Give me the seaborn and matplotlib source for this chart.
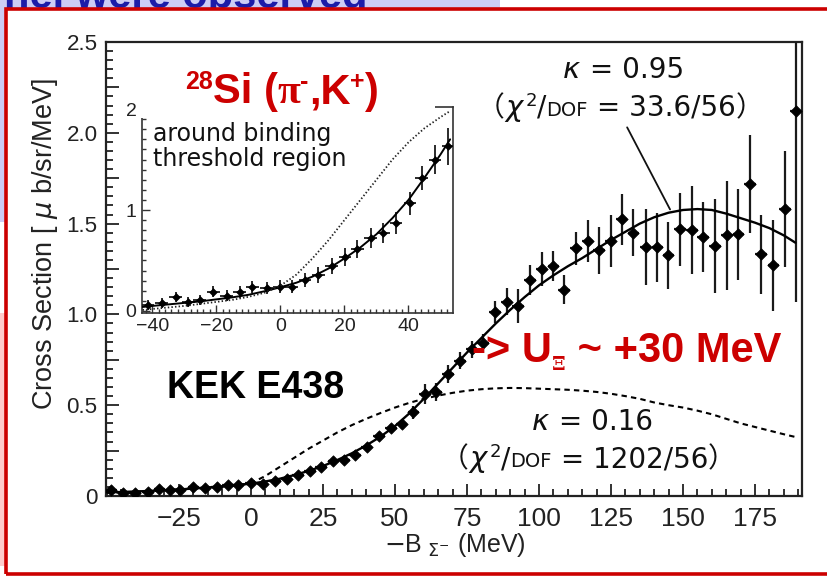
import numpy as np
import pandas as pd
import seaborn as sns
import matplotlib
matplotlib.use("Agg")
import matplotlib.pyplot as plt
from matplotlib import font_manager as fm
from matplotlib.patches import Rectangle
from matplotlib.ticker import MultipleLocator, FixedLocator, FixedFormatter

# ---------------- data ----------------
main_x = [-48.4, -44.3, -40.2, -35.7, -31.8, -28.1, -24.7, -20.0, -16.0, -11.9, -7.9, -4.4, -0.1,
          4.1, 8.3, 12.4, 16.4, 20.5, 24.3, 28.6, 32.4, 36.2, 40.2, 44.5, 48.6, 52.3, 56.4, 60.4,
          64.2, 68.5, 72.6, 76.6, 80.6, 84.7, 88.8, 92.8, 96.9, 100.9, 105.0, 108.7, 112.8, 116.9,
          120.9, 124.9, 128.7, 132.8, 137.0, 141.1, 144.9, 149.0, 153.1, 157.0, 161.1, 165.2,
          169.2, 173.3, 177.1, 181.4, 185.4, 189.2]
main_y = [0.035, 0.015, 0.018, 0.024, 0.041, 0.033, 0.033, 0.048, 0.046, 0.052, 0.059, 0.063, 0.070,
          0.067, 0.085, 0.096, 0.117, 0.135, 0.159, 0.190, 0.200, 0.226, 0.270, 0.333, 0.376, 0.395,
          0.460, 0.561, 0.574, 0.672, 0.746, 0.807, 0.840, 1.015, 1.070, 1.048, 1.190, 1.252, 1.265,
          1.135, 1.363, 1.404, 1.352, 1.404, 1.524, 1.450, 1.370, 1.370, 1.326, 1.468, 1.465, 1.426,
          1.376, 1.435, 1.440, 1.720, 1.330, 1.270, 1.580, 2.120]
main_err = [0.012, 0.012, 0.012, 0.012, 0.012, 0.012, 0.012, 0.012, 0.012, 0.012, 0.012, 0.012, 0.012,
            0.012, 0.012, 0.012, 0.014, 0.014, 0.015, 0.016, 0.017, 0.018, 0.02, 0.02, 0.022, 0.025,
            0.037, 0.055, 0.05, 0.05, 0.048, 0.046, 0.05, 0.06, 0.074, 0.093, 0.083, 0.093, 0.083,
            0.08, 0.093, 0.115, 0.13, 0.144, 0.14, 0.13, 0.21, 0.19, 0.185, 0.2, 0.24, 0.195, 0.26,
            0.3, 0.25, 0.27, 0.22, 0.25, 0.32, 1.05]

fit_x = [-50, -45, -40, -35, -30, -25, -20, -15, -10, -5, 0, 5, 10, 15, 20, 25, 30, 35, 40, 45, 50,
         55, 60, 65, 70, 75, 80, 85, 90, 95, 100, 105, 110, 115, 120, 125, 130, 135, 140, 145, 150,
         155, 160, 165, 170, 175, 180, 185, 189]
fit_k095 = [0.02, 0.022, 0.025, 0.028, 0.032, 0.036, 0.041, 0.047, 0.053, 0.06, 0.068, 0.08, 0.095,
            0.115, 0.138, 0.165, 0.198, 0.235, 0.278, 0.327, 0.385, 0.455, 0.535, 0.62, 0.705, 0.79,
            0.87, 0.95, 1.025, 1.095, 1.16, 1.215, 1.265, 1.31, 1.36, 1.41, 1.455, 1.5, 1.535, 1.56,
            1.575, 1.58, 1.575, 1.555, 1.53, 1.505, 1.475, 1.435, 1.395]
fit_k016 = [0.018, 0.02, 0.023, 0.027, 0.031, 0.036, 0.041, 0.047, 0.053, 0.06, 0.07, 0.11, 0.16,
            0.21, 0.26, 0.305, 0.35, 0.39, 0.425, 0.457, 0.487, 0.513, 0.535, 0.553, 0.568, 0.58,
            0.588, 0.593, 0.595, 0.594, 0.591, 0.588, 0.585, 0.58, 0.573, 0.563, 0.55, 0.535, 0.515,
            0.50, 0.487, 0.47, 0.45, 0.425, 0.40, 0.38, 0.36, 0.34, 0.325]

inset_x = [-41.3, -37.1, -32.7, -28.8, -25.2, -21.0, -16.8, -12.7, -8.7, -4.3, -0.2, 3.5, 7.7, 11.8,
           16.0, 20.2, 24.0, 28.2, 32.1, 36.1, 40.5, 44.1, 48.3, 52.4]
inset_y = [0.059, 0.076, 0.136, 0.092, 0.109, 0.191, 0.149, 0.191, 0.235, 0.225, 0.241, 0.241, 0.307,
           0.356, 0.446, 0.532, 0.611, 0.72, 0.775, 0.868, 1.066, 1.32, 1.50, 1.63]
inset_err = [0.05, 0.05, 0.05, 0.05, 0.05, 0.055, 0.055, 0.06, 0.06, 0.06, 0.065, 0.065, 0.07, 0.075,
             0.08, 0.09, 0.09, 0.1, 0.1, 0.11, 0.115, 0.12, 0.14, 0.18]
inset_fit_x = [-43, -40, -35, -30, -25, -20, -15, -10, -5, 0, 5, 10, 15, 20, 25, 30, 35, 40, 45, 50, 53]
inset_solid = [0.04, 0.05, 0.065, 0.08, 0.095, 0.115, 0.135, 0.16, 0.195, 0.235, 0.28, 0.34, 0.42,
               0.52, 0.63, 0.76, 0.92, 1.1, 1.32, 1.55, 1.7]
inset_dotted = [0.01, 0.02, 0.035, 0.05, 0.07, 0.09, 0.11, 0.14, 0.18, 0.25, 0.36, 0.52, 0.7, 0.9,
                1.1, 1.3, 1.5, 1.67, 1.81, 1.92, 1.98]

main_xticks = [-25, 0, 25, 50, 75, 100, 125, 150, 175]
main_xticklabels = ["\u221225", "0", "25", "50", "75", "100", "125", "150", "175"]
main_yticks = [0, 0.25, 0.5, 0.75, 1.0, 1.25, 1.5, 1.75, 2.0, 2.25, 2.5]
main_yticklabels = ["0", "", "0.5", "", "1.0", "", "1.5", "", "2.0", "", "2.5"]
inset_xticks = [-40, -20, 0, 20, 40]
inset_xticklabels = ["\u221240", "\u221220", "0", "20", "40"]
inset_yticks = [0, 1, 2]
inset_yticklabels = ["0", "1", "2"]

leader_from = (130.6, 2.03)
leader_to = (145.5, 1.578)

# ---------------- style ----------------
sns.set_theme(style="white")
names = {f.name for f in fm.fontManager.ttflist}
NARROW = "Liberation Sans Narrow" if "Liberation Sans Narrow" in names else "Liberation Sans"
narrow_scale = 1.0 if NARROW == "Liberation Sans Narrow" else 0.85
plt.rcParams["font.family"] = ["Liberation Sans", "DejaVu Sans"]
plt.rcParams["mathtext.fontset"] = "dejavusans"

W, H = 827, 578
fig = plt.figure(figsize=(W / 100, H / 100), dpi=100)
fig.patch.set_facecolor("white")


def fx(px):
    return px / W


def fy(py):
    return 1 - py / H


# ---------------- slide background ----------------
fig.patches.append(Rectangle((0, fy(10)), fx(500), 10 / H, transform=fig.transFigure,
                             facecolor="#ccccf5", edgecolor="none", zorder=0.5))
fig.patches.append(Rectangle((0, fy(222)), fx(6), 222 / H, transform=fig.transFigure,
                             facecolor="#ccccf5", edgecolor="none", zorder=0.5))
fig.patches.append(Rectangle((0, fy(566)), fx(6), (566 - 313) / H, transform=fig.transFigure,
                             facecolor="#ffcccc", edgecolor="none", zorder=0.5))
fig.text(fx(4), fy(8), "nel were observed", fontsize=30, fontweight="bold", color="#1c1ca8",
         va="baseline", ha="left", zorder=0.6)

# ---------------- main axes ----------------
ax = fig.add_axes([fx(106), fy(496), (802 - 106) / W, (496 - 42) / H])
ax.set_facecolor("white")

ax.errorbar(main_x, main_y, yerr=main_err, xerr=2.0, fmt="none", ecolor="#1a1a1a",
            elinewidth=1.6, capsize=0, zorder=3)
sns.scatterplot(x=main_x, y=main_y, marker="D", s=34, color="black", edgecolor="black",
                linewidth=0.5, ax=ax, zorder=4, legend=False)
sns.lineplot(x=fit_x, y=fit_k095, ax=ax, color="black", lw=1.7, zorder=5, sort=False)
sns.lineplot(x=fit_x, y=fit_k016, ax=ax, color="black", lw=1.5, zorder=5, sort=False,
             linestyle=(0, (2.6, 2.0)))

ax.set_xlim(-50.3, 191.3)
ax.set_ylim(0, 2.5)
ax.xaxis.set_major_locator(FixedLocator(main_xticks))
ax.xaxis.set_major_formatter(FixedFormatter(main_xticklabels))
ax.xaxis.set_minor_locator(MultipleLocator(5))
ax.yaxis.set_major_locator(FixedLocator(main_yticks))
ax.yaxis.set_major_formatter(FixedFormatter(main_yticklabels))
ax.yaxis.set_minor_locator(MultipleLocator(0.05))
ax.tick_params(axis="both", which="both", direction="in", color="#222222", width=1.3,
               top=False, right=False, bottom=True, left=True)
ax.tick_params(axis="x", which="major", length=9, pad=8, labelsize=19, labelcolor="#222222")
ax.tick_params(axis="x", which="minor", length=5)
ax.tick_params(axis="y", which="major", length=9, pad=6, labelsize=19 * narrow_scale,
               labelcolor="#222222")
ax.tick_params(axis="y", which="minor", length=5)
for lab in ax.get_yticklabels():
    lab.set_family(NARROW)
for sp in ax.spines.values():
    sp.set_linewidth(1.6)
    sp.set_color("#222222")
    sp.set_visible(True)
ax.set_xlabel("")
ax.set_ylabel("")

fig.text(fx(45), fy(244), "Cross Section [ $\\mu$ b/sr/MeV]", rotation=90, ha="center",
         va="center", fontsize=(21 if NARROW == "Liberation Sans Narrow" else 19.5), family=NARROW,
         color="#222222")
fig.text(fx(455), fy(545), "$-$B$_{\\ \\mathit{\\Sigma}^{-}}$ (MeV)", ha="center", va="center",
         fontsize=18, color="#222222")

ax.annotate("", xy=leader_to, xytext=leader_from,
            arrowprops=dict(arrowstyle="-", lw=1.3, color="#111111", shrinkA=0, shrinkB=0))

# ---------------- inset ----------------
ins = fig.add_axes([fx(142), fy(312.5), (453 - 142) / W, (312.5 - 107) / H])
ins.set_facecolor("white")
ins.errorbar(inset_x, inset_y, yerr=inset_err, xerr=2.0, fmt="none", ecolor="#1a1a1a",
             elinewidth=1.3, capsize=0, zorder=3)
sns.scatterplot(x=inset_x, y=inset_y, marker="D", s=16, color="black", edgecolor="black",
                linewidth=0.4, ax=ins, zorder=4, legend=False)
sns.lineplot(x=inset_fit_x, y=inset_solid, ax=ins, color="black", lw=1.4, zorder=5, sort=False)
sns.lineplot(x=inset_fit_x, y=inset_dotted, ax=ins, color="#222222", lw=1.3, zorder=5, sort=False,
             linestyle=(0, (0.8, 1.2)))
ins.set_xlim(-43.2, 53.9)
ins.set_ylim(-0.015, 2.02)
ins.xaxis.set_major_locator(FixedLocator(inset_xticks))
ins.xaxis.set_major_formatter(FixedFormatter(inset_xticklabels))
ins.xaxis.set_minor_locator(MultipleLocator(2))
ins.yaxis.set_major_locator(FixedLocator(inset_yticks))
ins.yaxis.set_major_formatter(FixedFormatter(inset_yticklabels))
ins.yaxis.set_minor_locator(MultipleLocator(0.1))
ins.tick_params(axis="both", which="both", direction="in", color="#333333", width=1.0,
                top=False, right=False, bottom=True, left=True)
ins.tick_params(axis="both", which="major", length=6, labelsize=14, labelcolor="#222222", pad=4)
ins.tick_params(axis="both", which="minor", length=3)
for sp in ins.spines.values():
    sp.set_linewidth(1.2)
    sp.set_color("#333333")
    sp.set_visible(True)
ins.set_xlabel("")
ins.set_ylabel("")
ins.text(0.035, 0.925, "around binding\nthreshold region", transform=ins.transAxes, ha="left",
         va="top", fontsize=17, family="DejaVu Sans", color="#111111", linespacing=1.05)

# white cover behind red title
fig.patches.append(Rectangle((fx(140), fy(118)), (435 - 140) / W, (118 - 48) / H,
                             transform=fig.transFigure, facecolor="white", edgecolor="none",
                             zorder=1))

# red slide frame
fig.patches.append(Rectangle((fx(6), fy(574)), (900 - 6) / W, (574 - 9) / H,
                             transform=fig.transFigure, facecolor="none", edgecolor="#cc0000",
                             linewidth=2.6, zorder=6))

# ---------------- chained texts ----------------
fig.canvas.draw()
renderer = fig.canvas.get_renderer()


def chain(x_px, y_px, chunks, ha="left"):
    texts = []
    x = x_px
    for s, kw, dy in chunks:
        t = fig.text(fx(x), fy(y_px + dy), s, va="baseline", ha="left", zorder=7, **kw)
        bb = t.get_window_extent(renderer)
        x += bb.width
        texts.append(t)
    if ha == "center":
        shift = (x - x_px) / 2
        for t in texts:
            px, py = t.get_position()
            t.set_x(px - shift / W)
    return texts


RED = "#cc0000"
tb = dict(fontsize=30, fontweight="bold", color=RED, family=["Liberation Sans", "DejaVu Sans"])
ts = dict(fontsize=18, fontweight="bold", color=RED, family=["Liberation Sans", "DejaVu Sans"])
chain(185, 103, [("28", ts, -14), ("Si (", tb, 0), ("\u03c0", dict(tb, family="Liberation Serif"), 0),
                 ("-", ts, -14), (",K", tb, 0), ("+", ts, -14), (")", tb, 0)])

rb = dict(fontsize=30, fontweight="bold", color=RED, family=["Liberation Sans", "DejaVu Sans"])
chain(472, 362, [("-> U", rb, 0),
                 ("\u039e", dict(fontsize=14, fontweight="bold", color=RED, family="DejaVu Serif"), 8),
                 (" ~ +30 MeV", rb, 0)])

fig.text(fx(167), fy(398), "KEK E438", fontsize=27, fontweight="bold", color="black",
         va="baseline", ha="left", zorder=7)

JP = ["Noto Sans CJK JP", "DejaVu Sans"]
DV = ["DejaVu Sans"]
big = dict(fontsize=20, color="#111111", family=DV)
par = dict(fontsize=20, color="#111111", family=JP)
mth = dict(fontsize=21, color="#111111")
sup = dict(fontsize=13, color="#111111", family=DV)
dof = dict(fontsize=14, color="#111111", family=DV)

chain(623, 78, [("$\\kappa$", mth, 0), (" = 0.95", big, 0)], ha="center")
chain(620, 116, [("\uff08", par, 0), ("$\\chi$", mth, 0), ("2", sup, -10), ("/", big, 0),
                 ("DOF", dof, 0), (" = 33.6/56", big, 0), ("\uff09", par, 0)], ha="center")
chain(592, 430, [("$\\kappa$", mth, 0), (" = 0.16", big, 0)], ha="center")
chain(588, 467, [("\uff08", par, 0), ("$\\chi$", mth, 0), ("2", sup, -10), ("/", big, 0),
                 ("DOF", dof, 0), (" = 1202/56", big, 0), ("\uff09", par, 0)], ha="center")

fig.savefig("out.png", dpi=100, facecolor="white")
